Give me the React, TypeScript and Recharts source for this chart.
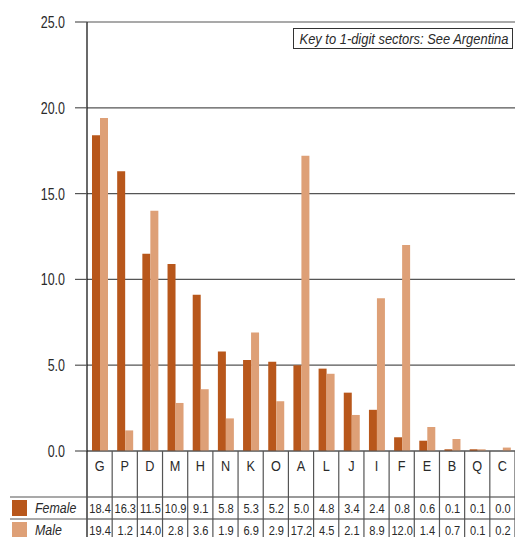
import React from 'react';
import { BarChart, Bar, XAxis, YAxis, CartesianGrid } from 'recharts';

// sectors, sorted by female share
const categories = ['G', 'P', 'D', 'M', 'H', 'N', 'K', 'O', 'A', 'L', 'J', 'I', 'F', 'E', 'B', 'Q', 'C'];
const female = [18.4, 16.3, 11.5, 10.9, 9.1, 5.8, 5.3, 5.2, 5.0, 4.8, 3.4, 2.4, 0.8, 0.6, 0.1, 0.1, 0.0];
const male = [19.4, 1.2, 14.0, 2.8, 3.6, 1.9, 6.9, 2.9, 17.2, 4.5, 2.1, 8.9, 12.0, 1.4, 0.7, 0.1, 0.2];
const yTicks = [0, 5, 10, 15, 20, 25];

const colors = {
  female: '#b8571b',
  male: '#dea077',
  grid: '#555555',
  axis: '#1a1a1a',
  text: '#2a2a2a',
};

// no condensed face installed, so squeeze a regular sans horizontally
const font = "'Liberation Sans', Arial, sans-serif";

const W = 515;
const H = 537;
const yAxisWidth = 87;
const xAxisHeight = 86;
const colWidth = (W - yAxisWidth) / categories.length;

const data = categories.map((c, i) => ({ name: c, Female: female[i], Male: male[i] }));

const Narrow = ({ x, y, size, anchor = 'middle', italic = false, squeeze = 0.8, children }: any) => (
  <text
    transform={`translate(${x} ${y}) scale(${squeeze} 1)`}
    textAnchor={anchor}
    fontSize={size}
    fontStyle={italic ? 'italic' : 'normal'}
    fill={colors.text}
    fontFamily={font}
  >
    {children}
  </text>
);

const YTick = (props: any) => {
  const { x, y, payload } = props;
  return (
    <Narrow x={x} y={y + 6} size={16} anchor="end" squeeze={0.78}>
      {Number(payload.value).toFixed(1)}
    </Narrow>
  );
};

const TableTick = (props: any) => {
  const { x, y, payload, index } = props;
  const left = x - colWidth / 2;
  const right = x + colWidth / 2;
  const row1 = y + 46;
  const row2 = y + 68;
  return (
    <g>
      <line x1={right} x2={right} y1={y} y2={H} stroke={colors.grid} strokeWidth={1.2} />
      {index === 0 && (
        <g>
          <line x1={left} x2={left} y1={y} y2={H} stroke={colors.axis} strokeWidth={1.3} />
          <line x1={10} x2={left} y1={row1} y2={row1} stroke={colors.grid} strokeWidth={1.2} />
          <line x1={10} x2={left} y1={row2} y2={row2} stroke={colors.grid} strokeWidth={1.2} />
          <rect x={12} y={row1 + 3} width={15} height={16} fill={colors.female} />
          <rect x={12} y={row2 + 3} width={15} height={18} fill={colors.male} />
          <Narrow x={35} y={row1 + 16} size={15.5} anchor="start" italic squeeze={0.8}>Female</Narrow>
          <Narrow x={35} y={row2 + 16} size={15.5} anchor="start" italic squeeze={0.8}>Male</Narrow>
        </g>
      )}
      <line x1={left} x2={right} y1={row1} y2={row1} stroke={colors.grid} strokeWidth={1.2} />
      <line x1={left} x2={right} y1={row2} y2={row2} stroke={colors.grid} strokeWidth={1.2} />
      <Narrow x={x} y={y + 20} size={15.5} squeeze={0.82}>
        {payload.value}
      </Narrow>
      <Narrow x={x + 0.5} y={row1 + 16} size={13.5} squeeze={0.82}>
        {female[index].toFixed(1)}
      </Narrow>
      <Narrow x={x + 0.5} y={row2 + 16} size={13.5} squeeze={0.82}>
        {male[index].toFixed(1)}
      </Narrow>
    </g>
  );
};

export default function App() {
  return (
    <div style={{ position: 'absolute', left: 0, top: 0, width: W, height: H, background: '#fff' }}>
      <BarChart
        width={W}
        height={H}
        data={data}
        margin={{ top: 22, right: 0, left: 0, bottom: 0 }}
        barGap={0}
        barSize={8}
      >
        <CartesianGrid vertical={false} stroke={colors.grid} strokeWidth={1.2} />
        <XAxis
          dataKey="name"
          height={xAxisHeight}
          interval={0}
          tickLine={false}
          tickSize={0}
          tickMargin={0}
          axisLine={{ stroke: colors.grid, strokeWidth: 1.2 }}
          tick={<TableTick />}
        />
        <YAxis
          width={yAxisWidth}
          domain={[0, 25]}
          ticks={yTicks}
          tickSize={12}
          tickMargin={10}
          tickLine={{ stroke: colors.grid, strokeWidth: 1.2 }}
          axisLine={{ stroke: colors.axis, strokeWidth: 1.3 }}
          tick={<YTick />}
        />
        <Bar dataKey="Female" fill={colors.female} isAnimationActive={false} />
        <Bar dataKey="Male" fill={colors.male} isAnimationActive={false} />
      </BarChart>
      <svg
        width={W}
        height={60}
        style={{ position: 'absolute', left: 0, top: 0, pointerEvents: 'none' }}
      >
        <rect x={293.5} y={28.5} width={219} height={20} fill="#fff" stroke="#333" strokeWidth={1} />
        <Narrow x={404} y={43.5} size={14.5} italic squeeze={0.89}>
          Key to 1-digit sectors: See Argentina
        </Narrow>
      </svg>
    </div>
  );
}
